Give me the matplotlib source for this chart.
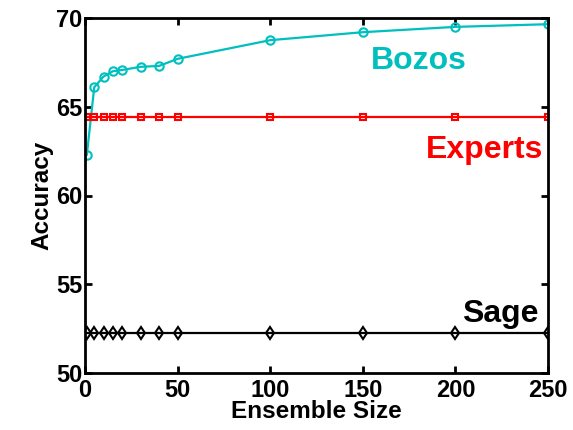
import matplotlib
matplotlib.use('Agg')
import matplotlib.pyplot as plt

plt.rcParams['font.family'] = ['Liberation Sans', 'DejaVu Sans']
plt.rcParams['font.weight'] = 'bold'

# 데이터
sizes = [1, 5, 10, 15, 20, 30, 40, 50, 100, 150, 200, 250]
bozos = [62.3, 66.1, 66.7, 67.0, 67.07, 67.25, 67.3, 67.7, 68.75, 69.2, 69.5, 69.65]
experts = [64.4] * len(sizes)
sage = [52.25] * len(sizes)

fig = plt.figure(figsize=(5.73, 4.30), dpi=100)
ax = fig.add_axes([85/573, 1 - 373/430, 463/573, 355/430])

ax.plot(sizes, bozos, color='#00BFBF', marker='o', ms=6, mfc='none', mew=1.5, lw=1.6)
ax.plot(sizes, experts, color='red', marker='s', ms=4.5, mfc='none', mew=1.5, lw=1.6)
ax.plot(sizes, sage, color='black', marker='d', ms=6, mfc='none', mew=1.5, lw=1.6)

ax.text(180, 67.6, 'Bozos', color='#00BFBF', fontsize=23, fontweight='bold', ha='center', va='center')
ax.text(216, 62.55, 'Experts', color='red', fontsize=23, fontweight='bold', ha='center', va='center')
ax.text(224, 53.3, 'Sage', color='black', fontsize=23, fontweight='bold', ha='center', va='center')

ax.set_xlim(0, 250)
ax.set_ylim(50, 70)
ax.set_xticks([0, 50, 100, 150, 200, 250])
ax.set_yticks([50, 55, 60, 65, 70])
ax.tick_params(direction='in', top=True, right=True, labelsize=17, width=2, length=5, pad=2)
ax.tick_params(axis='x', pad=4)
for s in ax.spines.values():
    s.set_linewidth(2)
ax.set_xlabel('Ensemble Size', fontsize=17.5, fontweight='bold', labelpad=-1)
ax.set_ylabel('Accuracy', fontsize=17.5, fontweight='bold', labelpad=2)

fig.savefig('out.png', dpi=100)
